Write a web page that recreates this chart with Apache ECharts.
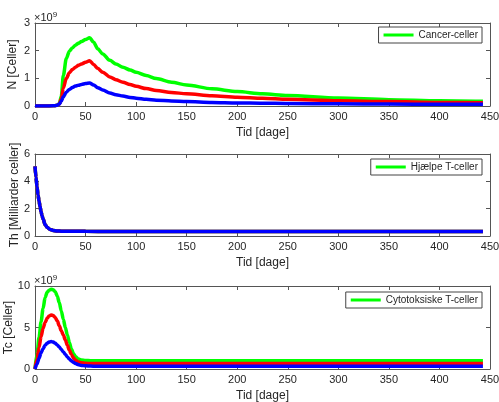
<!DOCTYPE html>
<html><head><meta charset="utf-8">
<script src="https://cdn.jsdelivr.net/npm/echarts@6/dist/echarts.min.js"></script>
<style>html,body{margin:0;padding:0;background:#fff}#c{width:499px;height:402px}</style>
</head><body><div id="c"></div>
<script>
// ---- Data (values of N and Tc in units of 10^9) ----
const tN = [0,10,18,20,22,24,26,28,31,34,37,40,43,46,50,54,58,62,67,74,80,87,94,100,110,120,135,150,175,200,225,250,300,350,400,443];
const nGreen = [0,0,0.005,0.01,0.03,0.08,0.35,1.1,1.72,1.98,2.1,2.2,2.27,2.33,2.4,2.47,2.3,2.07,1.88,1.65,1.52,1.4,1.3,1.22,1.1,0.99,0.86,0.76,0.62,0.52,0.44,0.38,0.29,0.23,0.19,0.17];
const nRed   = [0,0,0.005,0.01,0.03,0.07,0.25,0.65,1.0,1.2,1.32,1.4,1.47,1.52,1.58,1.64,1.5,1.36,1.22,1.05,0.95,0.86,0.78,0.71,0.63,0.56,0.49,0.44,0.37,0.32,0.28,0.24,0.19,0.16,0.13,0.12];
const nBlue  = [0,0,0.005,0.01,0.03,0.07,0.17,0.33,0.5,0.6,0.67,0.72,0.75,0.78,0.81,0.83,0.76,0.66,0.58,0.47,0.41,0.36,0.31,0.28,0.24,0.21,0.18,0.16,0.13,0.11,0.1,0.09,0.08,0.07,0.06,0.06];

const tTh = [0,1,2,3,4,5,6,7,8,10,12,15,18,22,26,30,40,50,75,100,150,200,300,400,443];
const th  = [5.1,4.28,3.6,3.0,2.56,2.15,1.77,1.49,1.25,0.83,0.64,0.48,0.41,0.37,0.355,0.35,0.345,0.34,0.335,0.33,0.33,0.33,0.33,0.33,0.33];

const tTc = [0,2,4,6,8,10,12,14,16,18,20,22,24,26,28,30,32,34,36,38,40,43,46,50,55,60,100,200,300,400,443];
const tcGreen = [0,1.8,3.8,5.7,7.3,8.6,9.25,9.5,9.6,9.55,9.3,8.8,8.0,7.0,6.0,5.0,4.1,3.2,2.4,1.85,1.5,1.2,1.08,1.02,1.0,1.0,1.0,1.0,1.0,1.0,1.0];
const tcRed   = [0,1.2,2.6,3.9,4.9,5.6,6.1,6.4,6.5,6.45,6.2,5.8,5.2,4.6,4.1,3.5,2.85,2.25,1.75,1.35,1.05,0.85,0.74,0.69,0.66,0.65,0.65,0.65,0.65,0.65,0.65];
const tcBlue  = [0,0.6,1.3,1.95,2.45,2.85,3.1,3.25,3.3,3.25,3.1,2.9,2.65,2.35,2.05,1.75,1.45,1.2,0.98,0.8,0.66,0.52,0.43,0.38,0.35,0.34,0.33,0.33,0.33,0.33,0.33];

const xTicks = {min:0, max:450, interval:50};
const yRanges = [{min:0,max:3,interval:1},{min:0,max:6,interval:2},{min:0,max:10,interval:5}];
const yNames = ['N [Celler]','Th [Milliarder celler]','Tc [Celler]'];
const legendNames = ['Cancer-celler','Hjælpe T-celler','Cytotoksiske T-celler'];
const xName = 'Tid [dage]';

// ---- Build ----
const FONT = '"Liberation Sans", Arial, Helvetica, sans-serif';
const TXT = '#262626', AX = '#555';
const zip = (t, v) => t.map((x, i) => [x, v[i]]);
const gridBase = {left:35, right:9, containLabel:false, outerBoundsMode:'none'};
const grids = [
  {...gridBase, top:23, height:83},
  {...gridBase, top:154, height:82},
  {...gridBase, top:286, height:83}
];
const nameGaps = [16, 14, 20];
const xAxes = [], yAxes = [], series = [], legends = [];
const legendTops = [27, 159, 292];
const dataSets = [
  [[tN,nGreen,'#00ff00'],[tN,nRed,'#ff0000'],[tN,nBlue,'#0000ff']],
  [[tTh,th,'#00ff00'],[tTh,th,'#ff0000'],[tTh,th,'#0000ff']],
  [[tTc,tcGreen,'#00ff00'],[tTc,tcRed,'#ff0000'],[tTc,tcBlue,'#0000ff']]
];
grids.forEach((g, i) => {
  xAxes.push({gridIndex:i, type:'value', ...xTicks, position:'bottom',
    name:xName, nameLocation:'middle', nameGap:21,
    nameTextStyle:{color:TXT, fontSize:12, fontFamily:FONT},
    axisLine:{show:true, lineStyle:{color:AX, width:1}},
    axisTick:{show:true, inside:true, length:4, lineStyle:{color:AX}},
    axisLabel:{color:TXT, fontSize:11, fontFamily:FONT, margin:5},
    splitLine:{show:false}});
  xAxes.push({gridIndex:i, type:'value', ...xTicks, position:'top',
    axisLine:{show:true, onZero:false, lineStyle:{color:AX, width:1}},
    axisTick:{show:true, inside:true, length:4, lineStyle:{color:AX}},
    axisLabel:{show:false}, splitLine:{show:false}});
  yAxes.push({gridIndex:i, type:'value', ...yRanges[i], position:'left',
    name:yNames[i], nameLocation:'middle', nameGap:nameGaps[i], nameMoveOverlap:false,
    nameTextStyle:{color:TXT, fontSize:12, fontFamily:FONT},
    axisLine:{show:true, lineStyle:{color:AX, width:1}},
    axisTick:{show:true, inside:true, length:4, lineStyle:{color:AX}},
    axisLabel:{color:TXT, fontSize:11, fontFamily:FONT, margin:5},
    splitLine:{show:false}});
  yAxes.push({gridIndex:i, type:'value', ...yRanges[i], position:'right',
    axisLine:{show:true, onZero:false, lineStyle:{color:AX, width:1}},
    axisTick:{show:true, inside:true, length:4, lineStyle:{color:AX}},
    axisLabel:{show:false}, splitLine:{show:false}});
  dataSets[i].forEach((d, k) => {
    series.push({type:'line', name: k === 0 ? legendNames[i] : legendNames[i] + '_' + k,
      xAxisIndex:2*i, yAxisIndex:2*i, data:zip(d[0], d[1]),
      showSymbol:false, smooth:0.3, smoothMonotone:'x',
      lineStyle:{color:d[2], width:3.5}, itemStyle:{color:d[2]}, z:2+k, animation:false});
  });
  legends.push({data:[legendNames[i]], right:17, top:legendTops[i], orient:'horizontal',
    icon:'rect', itemWidth:30, itemHeight:3, itemGap:4,
    backgroundColor:'#fff', borderColor:'#444', borderWidth:1, padding:[3,4,3,5],
    textStyle:{color:TXT, fontSize:10, fontFamily:FONT}, selectedMode:false});
});

const chart = echarts.init(document.getElementById('c'), null, {renderer:'canvas'});
chart.setOption({
  animation:false,
  backgroundColor:'#fff',
  title:[
    {text:'×10{s|9}', left:34, top:11, padding:0, textStyle:{color:TXT, fontSize:11, fontWeight:'normal', fontFamily:FONT, rich:{s:{fontSize:8, verticalAlign:'top', color:TXT, fontFamily:FONT, padding:[0,0,6,0]}}}},
    {text:'×10{s|9}', left:34, top:274, padding:0, textStyle:{color:TXT, fontSize:11, fontWeight:'normal', fontFamily:FONT, rich:{s:{fontSize:8, verticalAlign:'top', color:TXT, fontFamily:FONT, padding:[0,0,6,0]}}}}
  ],
  grid:grids, xAxis:xAxes, yAxis:yAxes, series:series, legend:legends
});
</script></body></html>
